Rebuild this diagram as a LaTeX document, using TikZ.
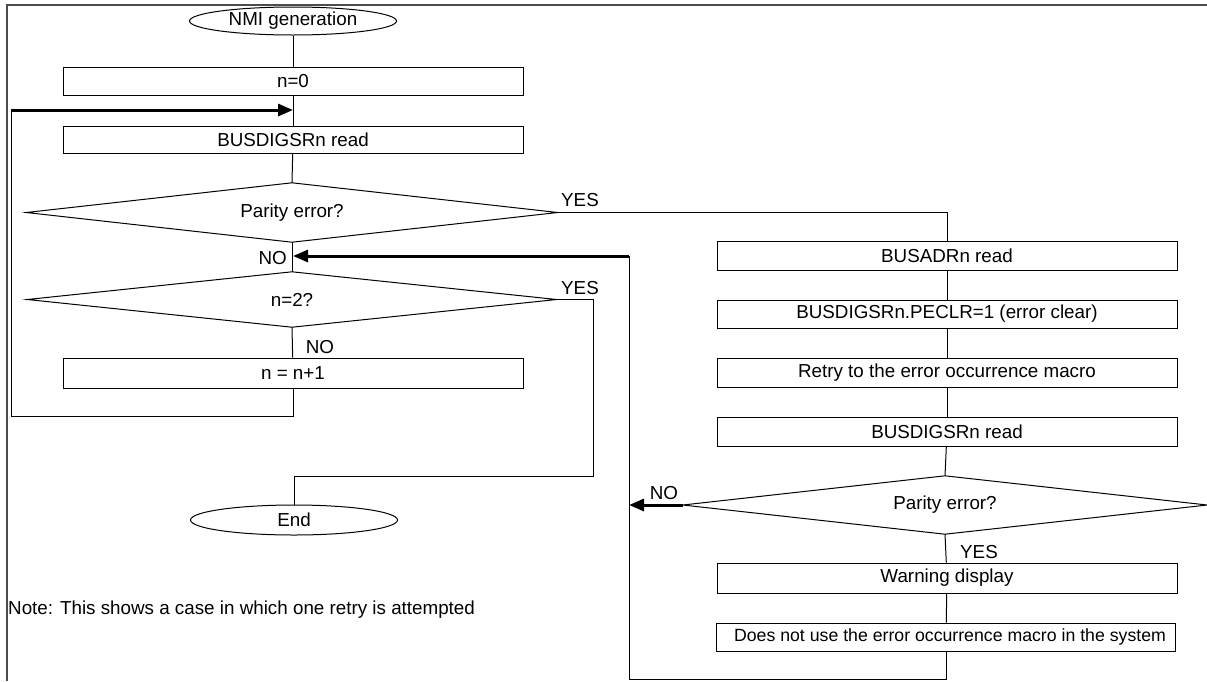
\documentclass[tikz,border=0pt]{standalone}
\usepackage{fontspec}
\setmainfont{Liberation Sans}
\usetikzlibrary{shapes.geometric,arrows.meta}
\begin{document}
\begin{tikzpicture}[x=1pt,y=-1pt,
  every node/.style={font=\fontsize{18.8}{22}\selectfont, inner sep=0pt},
  box/.style={draw, line width=1pt, minimum width=460pt, minimum height=28pt},
  term/.style={draw, ellipse, line width=1pt, minimum width=207pt, minimum height=28pt},
  dec/.style={rectangle},
  decline/.style={line width=1pt, line join=miter},
  flow/.style={line width=1pt},
  back/.style={line width=3pt, -{Triangle[length=15pt,width=12pt]}},
  frame/.style={line width=2pt, black!70}
]
\useasboundingbox (0,0) rectangle (1207,681);
% outer frame
\coordinate (ftr) at (1207,5);
\coordinate (ftl) at (7,5);
\coordinate (fbl) at (7,681);
\draw[frame] (ftr) -- (ftl) -- (fbl);

% left column
\node[term] (start) at (293,21) {NMI generation};
\node[box, minimum height=28pt] (n0) at (293,81) {n=0};
\coordinate (j1) at (293,110);
\node[box, minimum height=27pt] (rd1) at (293,139.5) {BUSDIGSRn read};
\node[dec, minimum width=531pt, minimum height=59pt] (pe1) at (292,212.5) {Parity error?};
\draw[decline] (pe1.north) -- (pe1.east) -- (pe1.south) -- (pe1.west) -- cycle;
\coordinate (j2) at (293,256);
\node[dec, minimum width=529pt, minimum height=55pt] (n2) at (292,299.5) {n=2?};
\draw[decline] (n2.north) -- (n2.east) -- (n2.south) -- (n2.west) -- cycle;
\node[box, minimum height=30pt] (inc) at (293,373) {n = n+1};
\node[term, minimum height=30pt] (end) at (294,520) {End};

% right column
\node[box, minimum height=29pt] (adr) at (947,255.5) {BUSADRn read};
\node[box, minimum height=28pt] (clr) at (947,314) {BUSDIGSRn.PECLR=1 (error clear)};
\node[box, minimum height=29pt] (retry) at (947,372.5) {Retry to the error occurrence macro};
\node[box, minimum height=29pt] (rd2) at (947,431.5) {BUSDIGSRn read};
\node[dec, minimum width=524pt, minimum height=58pt] (pe2) at (945,505) {Parity error?};
\draw[decline] (pe2.north) -- (pe2.east) -- (pe2.south) -- (pe2.west) -- cycle;
\node[box, minimum height=30pt] (warn) at (947,578) {Warning display};
\node[box, minimum width=459pt, minimum height=28pt, font=\fontsize{17.7}{21}\selectfont] (nouse) at (946,637) {\hspace{8pt}Does not use the error occurrence macro in the system};

% connectors, left
\draw[flow] (start) -- (n0);
\draw[flow] (n0) -- (rd1);
\draw[flow] (rd1) -- (pe1.north);
\draw[flow] (pe1.south) -- (n2.north);
\draw[flow] (n2.south) -- (inc);
\coordinate (lb) at (11,416);
\coordinate (lt) at (11,110);
\draw[flow] (inc) |- (lb) -- (lt);
\draw[back] (lt) -- (j1);
\coordinate (y2b) at (593,476);
\draw[flow] (n2.east) -| (y2b) -| (end.north);

% connectors, right
\draw[flow] (pe1.east) -| (adr.north);
\draw[flow] (adr) -- (clr);
\draw[flow] (clr) -- (retry);
\draw[flow] (retry) -- (rd2);
\draw[flow] (rd2) -- (pe2.north);
\draw[flow] (pe2.south) -- (warn);
\draw[flow] (warn) -- (nouse);
\coordinate (rno) at (629,505);
\draw[back] (pe2.west) -- (rno);
\coordinate (rb) at (629,679);
\coordinate (rt) at (629,256);
\draw[flow] (nouse) |- (rb) -- (rt);
\draw[back] (rt) -- (j2);

% labels
\node (yes1) at (580,200) {YES};
\node (yes2) at (580,288) {YES};
\node[anchor=east] (no1) at (287,258) {NO};
\node (no2) at (320,347) {NO};
\node (no3) at (664,493) {NO};
\node (yes3) at (979,552) {YES};
\node[anchor=west] (note) at (8,610) {Note: This shows a case in which one retry is attempted};
\end{tikzpicture}
\end{document}
